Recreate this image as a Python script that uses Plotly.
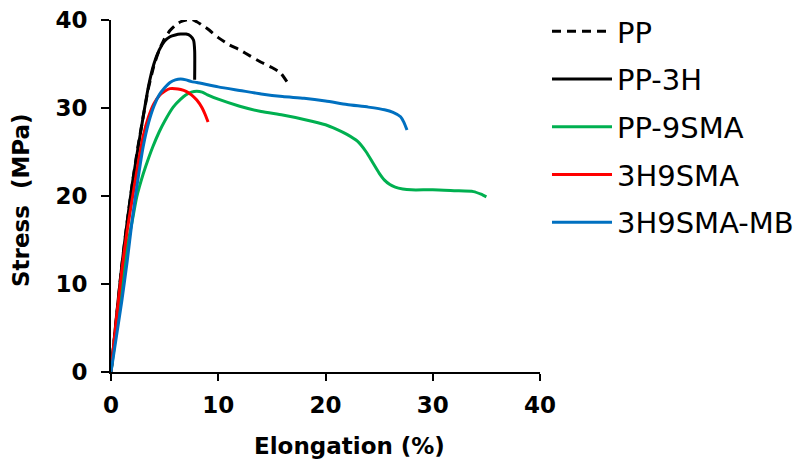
import plotly.graph_objects as go

# PP (dashed black)
pp_x = [0, 0.5, 1, 1.5, 2, 2.5, 3, 3.5, 4, 4.5, 5, 5.5, 6, 6.5, 7, 7.5, 8, 8.5, 9, 10, 11, 12, 13, 14, 15, 15.8, 16.4]
pp_y = [0, 6, 12, 17, 21.5, 25.5, 29, 32.3, 34.8, 36.6, 37.9, 38.8, 39.4, 39.8, 40.0, 40.1, 39.8, 39.4, 39.0, 38.0, 37.2, 36.6, 35.9, 35.2, 34.6, 34.0, 33.0]

# PP-3H (solid black)
pp3h_x = [0, 0.5, 1, 1.5, 2, 2.5, 3, 3.5, 4, 4.5, 5, 5.5, 6, 6.5, 7, 7.4, 7.7, 7.8, 7.8]
pp3h_y = [0, 6.2, 12, 17, 21.5, 25.3, 29, 32.5, 35, 36.6, 37.6, 38.1, 38.3, 38.4, 38.4, 38.2, 37.7, 36.5, 33.2]

# PP-9SMA (green)
pp9_x = [0, 0.7, 1, 1.5, 2, 2.4, 3, 3.5, 3.9, 4.5, 5, 5.8, 6.5, 7, 7.5, 8, 8.5, 9, 10, 12, 14, 16, 18, 20, 21, 22, 23, 23.8, 24.4, 25, 25.5, 26, 26.5, 27.2, 28, 30, 32, 33.8, 34.5, 35]
pp9_y = [0, 6.7, 9.7, 14.2, 17.3, 19.9, 22.5, 24.3, 25.6, 27.3, 28.5, 30.1, 31.0, 31.5, 31.8, 31.9, 31.8, 31.5, 31.0, 30.2, 29.6, 29.2, 28.7, 28.1, 27.6, 27.0, 26.2, 25.0, 23.8, 22.6, 21.8, 21.3, 21.0, 20.8, 20.7, 20.7, 20.6, 20.5, 20.2, 19.9]

# 3H9SMA (red)
h9_x = [0, 0.5, 1, 1.5, 2, 2.5, 3, 3.5, 4, 4.5, 5, 5.5, 6, 6.5, 7, 7.5, 8, 8.5, 8.8, 9.05]
h9_y = [0, 6, 11.5, 16, 19.8, 23.5, 26.8, 29, 30.5, 31.4, 31.9, 32.2, 32.2, 32.1, 31.9, 31.5, 30.9, 30.0, 29.2, 28.4]

# 3H9SMA-MB (blue)
mb_x = [0, 0.5, 1, 1.5, 2, 2.5, 3, 3.5, 4, 4.5, 5, 5.5, 6, 6.5, 7, 7.5, 8, 10, 12, 14, 16, 18, 20, 22, 24, 25.5, 26.3, 27, 27.3, 27.6]
mb_y = [0, 4, 8, 12.5, 17.5, 21.8, 25.6, 28.3, 30.2, 31.5, 32.3, 32.9, 33.2, 33.3, 33.2, 33.0, 32.9, 32.4, 32.0, 31.6, 31.3, 31.1, 30.8, 30.4, 30.1, 29.8, 29.5, 29.0, 28.4, 27.5]

x_ticks = [0, 10, 20, 30, 40]
y_ticks = [0, 10, 20, 30, 40]

series = [
    ("PP", pp_x, pp_y, "black", "9px,6px"),
    ("PP-3H", pp3h_x, pp3h_y, "black", "solid"),
    ("PP-9SMA", pp9_x, pp9_y, "#00B050", "solid"),
    ("3H9SMA", h9_x, h9_y, "#FF0000", "solid"),
    ("3H9SMA-MB", mb_x, mb_y, "#0070C0", "solid"),
]

fig = go.Figure()
for name, xs, ys, color, dash in series:
    fig.add_trace(go.Scatter(x=xs, y=ys, mode="lines", name=name, legendgroup=name, cliponaxis=False,
                             line=dict(color=color, width=3, dash=dash, shape="spline", smoothing=0.6)))

bold = dict(family="DejaVu Sans", size=23, color="black", weight="bold")

# the page body has an 8px default margin, so the figure sits 8px right/down in the window
fig.update_layout(
    width=806, height=467, autosize=False,
    margin=dict(l=103, r=274, t=12, b=103, autoexpand=False),
    paper_bgcolor="white", plot_bgcolor="white",
    showlegend=True,
    legend=dict(x=(547 - 111) / 429, y=(372 - 6) / 352, xanchor="left", yanchor="top", traceorder="grouped",
                tracegroupgap=7, itemwidth=60,
                font=dict(family="DejaVu Sans", size=29, color="black"),
                bgcolor="rgba(0,0,0,0)"),
    xaxis=dict(range=[0, 40], tickvals=x_ticks, showgrid=False, zeroline=False,
               showline=True, linecolor="black", linewidth=2,
               ticks="outside", ticklen=7, tickwidth=2, tickcolor="black",
               ticklabelstandoff=4, ticklabeloverflow="allow", tickfont=bold),
    yaxis=dict(range=[0, 40], tickvals=y_ticks, showgrid=False, zeroline=False,
               showline=True, linecolor="black", linewidth=2,
               ticks="outside", ticklen=8, tickwidth=2, tickcolor="black",
               ticklabelstandoff=9, ticklabeloverflow="allow", tickfont=bold),
    annotations=[
        dict(text="Elongation (%)", x=(349 - 111) / 429, y=(372 - 446) / 352, xref="paper", yref="paper",
             xanchor="center", yanchor="middle", showarrow=False, font=bold),
        dict(text="Stress  (MPa)", x=(21 - 111) / 429, y=(372 - 200) / 352, xref="paper", yref="paper",
             xanchor="center", yanchor="middle", showarrow=False, textangle=-90, font=bold),
    ],
)

fig.write_html("out.html")
